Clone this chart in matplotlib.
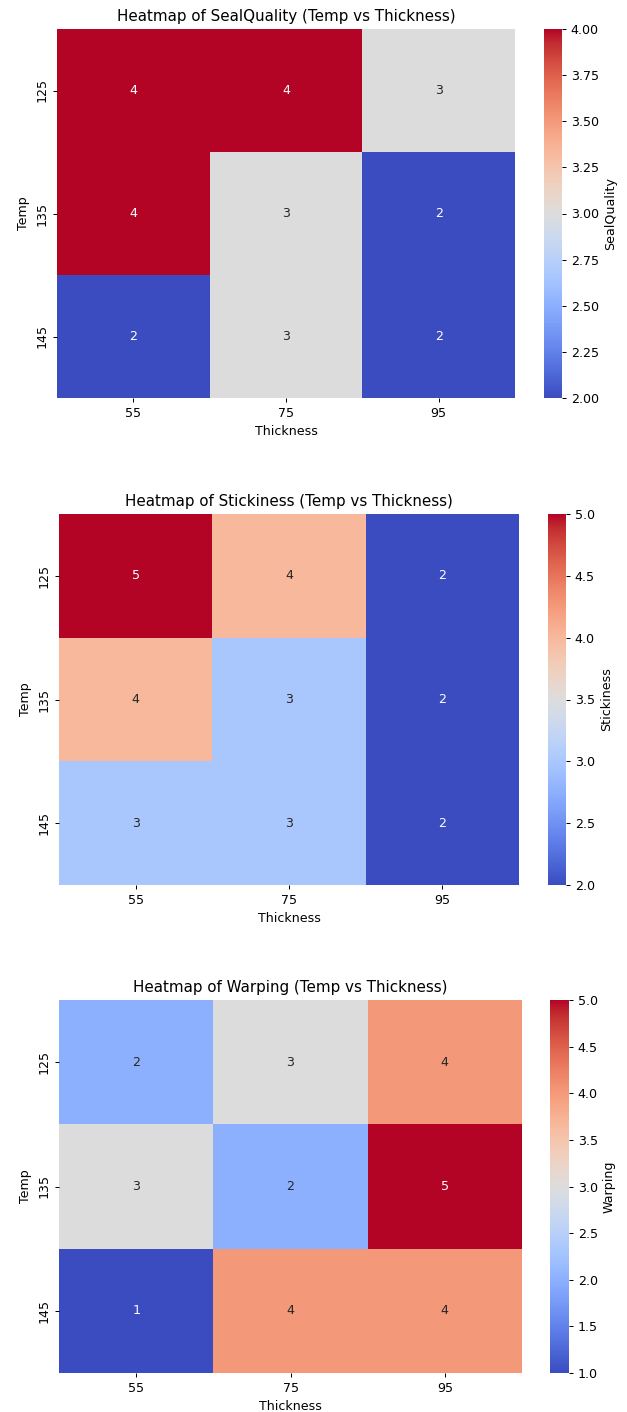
import numpy as np
import pandas as pd
import seaborn as sns
from matplotlib import pyplot as plt

temps = [125, 135, 145]
thicknesses = [55, 75, 95]

seal_quality = [[4, 4, 3],
                [4, 3, 2],
                [2, 3, 2]]
stickiness = [[5, 4, 2],
              [4, 3, 2],
              [3, 3, 2]]
warping = [[2, 3, 4],
           [3, 2, 5],
           [1, 4, 4]]

metrics = [("SealQuality", seal_quality),
           ("Stickiness", stickiness),
           ("Warping", warping)]

W, H = 627, 1412
DPI = 90.6
# pixel boxes: (ax_left, ax_right, top, bottom, cbar_left, cbar_right)
boxes = [(57, 515, 29, 398, 544, 562),
         (59, 519, 514, 885, 548, 566),
         (59, 522, 1000, 1373, 550, 569)]


def to_fig(x0, x1, y0, y1):
    return [x0 / W, 1 - y1 / H, (x1 - x0) / W, (y1 - y0) / H]


fig, axes = plt.subplots(3, 1, figsize=(W / DPI, H / DPI), dpi=DPI)

for ax, (name, values), box in zip(axes, metrics, boxes):
    df = pd.DataFrame(values, index=pd.Index(temps, name="Temp"),
                      columns=pd.Index(thicknesses, name="Thickness"))
    sns.heatmap(df, annot=True, cmap="coolwarm", ax=ax, cbar_kws={"label": name})
    ax.set_title(f"Heatmap of {name} (Temp vs Thickness)")
    ax.set_xlabel("Thickness")
    ax.set_ylabel("Temp")
    x0, x1, y0, y1, c0, c1 = box
    ax.set_position(to_fig(x0, x1, y0, y1))
    cax = ax.collections[0].colorbar.ax
    cax.set_box_aspect(None)
    cax.set_position(to_fig(c0, c1, y0, y1))

plt.savefig("out.png", dpi=DPI)
